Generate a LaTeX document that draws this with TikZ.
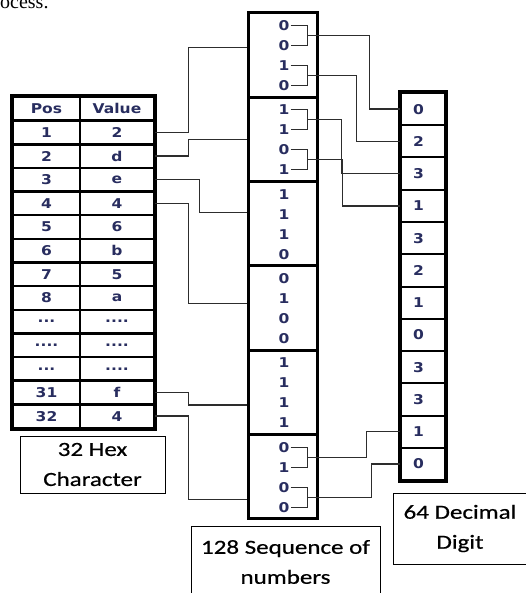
\documentclass[tikz,border=0pt]{standalone}
\usepackage{fontspec}
\usetikzlibrary{calc}
\setmainfont{Liberation Serif}
\newfontfamily\cellfont[FakeStretch=1.15]{DejaVu Sans Bold}
\newfontfamily\capfont[FakeStretch=1.25,FakeBold=0.6]{Carlito}
\definecolor{cellink}{RGB}{40,45,95}
\definecolor{wire}{RGB}{45,45,45}
\newcommand\celldotsa{...}
\newcommand\celldotsb{....}

\begin{document}
\begin{tikzpicture}[x=1pt,y=-1pt,
    cell/.style={draw, line width=2.5pt, inner sep=0pt, minimum height=23.64,
      text=cellink, font={\cellfont\fontsize{13.5}{14}\selectfont}},
    group/.style={draw, line width=3pt, inner sep=0pt, minimum width=69, minimum height=84.33},
    bit/.style={inner sep=1pt, text=cellink, font={\cellfont\fontsize{13.5}{14}\selectfont}},
    dec/.style={draw, line width=2pt, minimum height=32.25, text width=20, inner xsep=12,
      inner ysep=0pt, align=left, text=cellink, font={\cellfont\fontsize{13.5}{14}\selectfont}},
    caption/.style={draw, line width=0.8pt, inner sep=0pt, align=center,
      font={\capfont\fontsize{20}{30}\selectfont}},
    link/.style={draw=wire, line width=1.3pt}]
  \useasboundingbox (0,0) rectangle (525,593);
  % text cut off at the top
  \node[anchor=base west, inner sep=0pt, font=\fontsize{20}{20}\selectfont] (ttl) at (0,9) {ocess.};
  % hex table
  \foreach \p/\v [count=\i] in {Pos/Value,1/2,2/d,3/e,4/4,5/6,6/b,7/5,8/a,
      \celldotsa/\celldotsb,\celldotsb/\celldotsb,\celldotsa/\celldotsb,31/f,32/4}{
    \node[cell, minimum width=67] (p\i) at (46.5,{97+23.64*(\i-0.5)}) {\p};
    \node[cell, minimum width=74] (v\i) at (117,{97+23.64*(\i-0.5)}) {\v};
  }
  \draw[line width=3.5pt] (p1.north west) rectangle (v14.south east);
  % bit column
  \foreach \a/\b/\c/\d [count=\k] in {0/0/1/0,1/1/0/1,1/1/1/0,0/1/0/0,1/1/1/1,0/1/0/0}{
    \node[group] (g\k) at (282.5,{13+84.33*(\k-0.5)}) {};
    \foreach \t/\j in {\a/1,\b/2,\c/3,\d/4}
      \node[bit] (d\k\j) at (284,{13+84.33*(\k-1)+12.5+20*(\j-1)}) {\t};
  }
  % pairs of bits
  \foreach \k in {1,2,6}{
    \draw[link] (d\k1.east) -- ++(17,0) |- (d\k2.east);
    \draw[link] (d\k3.east) -- ++(17,0) |- (d\k4.east);
    \coordinate (bk\k a) at ($(d\k1.east)!0.5!(d\k2.east)+(17,0)$);
    \coordinate (bk\k b) at ($(d\k3.east)!0.5!(d\k4.east)+(17,0)$);
  }
  % decimal column
  \foreach \v [count=\i] in {0,2,3,1,3,2,1,0,3,3,1,0}
    \node[dec] (e\i) at (423,{93+32.25*(\i-0.5)}) {\v};
  \draw[line width=4pt] (e1.north west) rectangle (e12.south east);
  % hex value -> bits
  \foreach \k/\dy in {1/-8,2/0,3/-11,4/-5,5/12.5,6/23}
    \coordinate (in\k) at ($(g\k.west)+(0,\dy)$);
  \foreach \r/\k/\w in {2/1/33,3/2/33,4/3/44,5/4/33,13/5/33,14/6/33}
    \draw[link] (v\r.east) -- ++(\w,0) |- (in\k);
  % bit pair -> decimal digit
  \foreach \s/\r/\w in {1a/1/62,1b/2/49,2a/3/34,2b/4/35,6a/11/59,6b/12/64}
    \draw[link] (bk\s) -- ++(\w,0) |- (e\r.west);
  % captions
  \node[caption, minimum width=145, minimum height=57] (hexcap) at (92.5,464.5) {32 Hex\\Character};
  \node[caption, minimum width=189, minimum height=72] (seqcap) at (285.5,562) {128 Sequence of\\numbers};
  \node[caption, minimum width=134, minimum height=71] (deccap) at (460,528.5) {64 Decimal\\Digit};
\end{tikzpicture}
\end{document}
